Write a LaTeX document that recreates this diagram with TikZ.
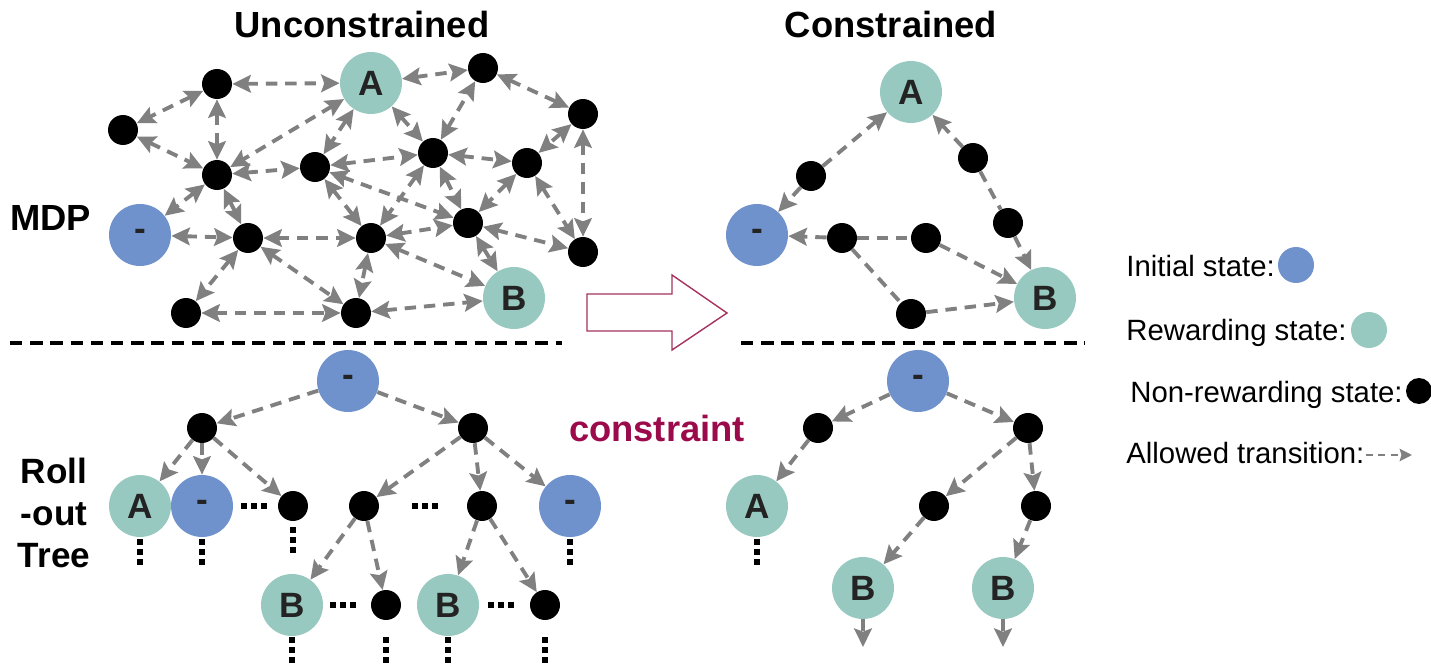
\documentclass[tikz,border=0pt]{standalone}
\usepackage{fontspec}
\setmainfont{Liberation Sans}
\usetikzlibrary{arrows.meta,positioning}
\definecolor{initblue}{RGB}{111,146,204}
\definecolor{rewteal}{RGB}{152,201,192}
\definecolor{edgegray}{RGB}{128,128,128}
\definecolor{lettergray}{RGB}{35,35,35}
\definecolor{conmaroon}{RGB}{155,10,75}
\definecolor{arrowmaroon}{RGB}{165,50,95}

\tikzset{
  head/.style={font=\bfseries\fontsize{20.7}{24}\selectfont,anchor=base,inner sep=0pt},
  legtxt/.style={font=\fontsize{16.7}{20}\selectfont,anchor=base west,inner sep=0pt},
  initst/.style={circle,fill=initblue,minimum size=1.24cm,inner sep=0pt,
    font=\bfseries\fontsize{20}{20}\selectfont,text=lettergray},
  rewst/.style={initst,fill=rewteal},
  nrst/.style={circle,fill=black,minimum size=0.6cm,inner sep=0pt},
  tr/.style={draw=edgegray,line width=2.2pt,dash pattern=on 6.5pt off 4.5pt},
  divider/.style={line width=2pt,dash pattern=on 7pt off 4.5pt},
  sqdots/.style={line width=3pt,dash pattern=on 3pt off 2.7pt},
}

\begin{document}
\begin{tikzpicture}[x=0.02cm,y=-0.02cm,>={Stealth[length=10.5pt,width=10pt,inset=1.8pt]}]
  \useasboundingbox (0,0) rectangle (1431,672);

  % headings and row labels
  \node[head] (hunc) at (362,38) {Unconstrained};
  \node[head] (hcon) at (891,38) {Constrained};
  \node[head,anchor=base west] (hmdp) at (10,231) {MDP};
  \node[head,anchor=center,align=center,font=\bfseries\fontsize{20}{24}\selectfont]
    (hroll) at (54,513) {Roll\\-out\\Tree};
  \node[head,text=conmaroon] (hcstr) at (657,441) {constraint};

  % unconstrained MDP
  \node[nrst] (m1) at (217,84) {};
  \node[nrst] (m2) at (123,130) {};
  \node[rewst] (mA) at (371,83) {A};
  \node[nrst] (m3) at (483,68) {};
  \node[nrst] (m4) at (583,114) {};
  \node[nrst] (m5) at (217,175) {};
  \node[nrst] (m6) at (315,167) {};
  \node[nrst] (m7) at (433,153) {};
  \node[nrst] (m8) at (527,163) {};
  \node[initst] (mI) at (140,235) {-};
  \node[nrst] (m9) at (248,238) {};
  \node[nrst] (m10) at (371,238) {};
  \node[nrst] (m11) at (468,223) {};
  \node[nrst] (m12) at (583,252) {};
  \node[nrst] (m13) at (186,313) {};
  \node[nrst] (m14) at (356,313) {};
  \node[rewst] (mB) at (514,298) {B};

  \draw[tr,<->] (m1) -- (mA);   \draw[tr,<->] (m1) -- (m2);   \draw[tr,<->] (m1) -- (m5);
  \draw[tr,<->] (m2) -- (m5);   \draw[tr,<->] (mA) -- (m5);   \draw[tr,<->] (m5) -- (m6);
  \draw[tr,<->] (m5) -- (mI);   \draw[tr,<->] (m5) -- (m9);   \draw[tr,<->] (mI) -- (m9);
  \draw[tr,<->] (m9) -- (m10);  \draw[tr,<->] (m9) -- (m13);  \draw[tr,<->] (m9) -- (m14);
  \draw[tr,<->] (m13) -- (m14); \draw[tr,<->] (m6) -- (m7);   \draw[tr,<->] (m6) -- (m11);
  \draw[tr,<->] (mA) -- (m6);   \draw[tr,<->] (mA) -- (m7);   \draw[tr,<->] (mA) -- (m3);
  \draw[tr,<->] (m6) -- (m10);  \draw[tr,<->] (m7) -- (m10);  \draw[tr,<->] (m10) -- (m11);
  \draw[tr,<->] (m10) -- (mB);  \draw[tr,<->] (m10) -- (m14); \draw[tr,<->] (m14) -- (mB);
  \draw[tr,<->] (m7) -- (m11);  \draw[tr,<->] (m7) -- (m8);   \draw[tr,<->] (m7) -- (m3);
  \draw[tr,<->] (m3) -- (m4);   \draw[tr,<->] (m4) -- (m8);   \draw[tr,<->] (m4) -- (m12);
  \draw[tr,<->] (m8) -- (m11);  \draw[tr,<->] (m8) -- (m12);  \draw[tr,<->] (m11) -- (m12);
  \draw[tr,<->] (m11) -- (mB);

  % constrained MDP
  \node[rewst] (cA) at (911,92) {A};
  \node[nrst] (c1) at (811,176) {};
  \node[nrst] (c2) at (973,158) {};
  \node[nrst] (c3) at (1008,223) {};
  \node[initst] (cI) at (757,235) {-};
  \node[nrst] (c4) at (842,238) {};
  \node[nrst] (c5) at (926,238) {};
  \node[rewst] (cB) at (1045,298) {B};
  \node[nrst] (c6) at (911,314) {};

  \draw[tr,->] (c1) -- (cA);  \draw[tr,->] (c1) -- (cI);
  \draw[tr,->] (c2) -- (cA);  \draw[tr] (c2) -- (c3);  \draw[tr,->] (c3) -- (cB);
  \draw[tr,->] (c4) -- (cI);  \draw[tr] (c4) -- (c5);  \draw[tr,->] (c5) -- (cB);
  \draw[tr] (c4) -- (c6);     \draw[tr,->] (c6) -- (cB);

  % separators
  \draw[divider] (10,343) -- (562,343);
  \draw[divider] (741,343) -- (1085,343);

  % big arrow
  \draw[arrowmaroon,line width=0.8pt,line join=miter]
    (587,294) -- (672,294) -- (672,275) -- (727,313) -- (672,350) -- (672,331) -- (587,331) -- cycle;

  % unconstrained roll-out tree
  \node[initst] (rt) at (348,381) {-};
  \node[nrst] (t1) at (202,428) {};
  \node[nrst] (t2) at (473,428) {};
  \node[rewst] (tA) at (140,506) {A};
  \node[initst] (tI1) at (202,506) {-};
  \node[nrst] (t3) at (293,506) {};
  \node[nrst] (t4) at (364,506) {};
  \node[nrst] (t5) at (482,506) {};
  \node[initst] (tI2) at (570,506) {-};
  \node[rewst] (tB1) at (292,605) {B};
  \node[nrst] (t6) at (386,605) {};
  \node[rewst] (tB2) at (448,605) {B};
  \node[nrst] (t7) at (545,605) {};

  \draw[tr,->] (rt) -- (t1);  \draw[tr,->] (rt) -- (t2);
  \draw[tr,->] (t1) -- (tA);  \draw[tr,->] (t1) -- (tI1); \draw[tr,->] (t1) -- (t3);
  \draw[tr,->] (t2) -- (t4);  \draw[tr,->] (t2) -- (t5);  \draw[tr,->] (t2) -- (tI2);
  \draw[tr,->] (t4) -- (tB1); \draw[tr,->] (t4) -- (t6);
  \draw[tr,->] (t5) -- (tB2); \draw[tr,->] (t5) -- (t7);

  \draw[sqdots] (tA.south) ++(0,2) -- ++(0,26);
  \draw[sqdots] (tI1.south) ++(0,2) -- ++(0,26);
  \draw[sqdots] (t3.south) ++(0,6) -- ++(0,26);
  \draw[sqdots] (tI2.south) ++(0,2) -- ++(0,26);
  \draw[sqdots] (tB1.south) ++(0,1) -- ++(0,26);
  \draw[sqdots] (t6.south) ++(0,17) -- ++(0,26);
  \draw[sqdots] (tB2.south) ++(0,1) -- ++(0,26);
  \draw[sqdots] (t7.south) ++(0,17) -- ++(0,26);
  \draw[sqdots] (tI1.east) ++(8,0) -- ++(26,0);
  \draw[sqdots] (t4.east) ++(33,0) -- ++(26,0);
  \draw[sqdots] (tB1.east) ++(7,0) -- ++(26,0);
  \draw[sqdots] (tB2.east) ++(9,0) -- ++(26,0);

  % constrained roll-out tree
  \node[initst] (sr) at (918,381) {-};
  \node[nrst] (s1) at (818,428) {};
  \node[nrst] (s2) at (1028,428) {};
  \node[rewst] (sA) at (757,506) {A};
  \node[nrst] (s3) at (934,506) {};
  \node[nrst] (s4) at (1036,506) {};
  \node[rewst] (sB1) at (863,588) {B};
  \node[rewst] (sB2) at (1003,588) {B};
  \coordinate (se1) at (863,647);
  \coordinate (se2) at (1003,647);

  \draw[tr,->] (sr) -- (s1);  \draw[tr,->] (sr) -- (s2);
  \draw[tr,->] (s1) -- (sA);  \draw[tr,->] (s2) -- (s3);  \draw[tr,->] (s2) -- (s4);
  \draw[tr,->] (s3) -- (sB1); \draw[tr,->] (s4) -- (sB2);
  \draw[tr,->] (sB1) -- (se1); \draw[tr,->] (sB2) -- (se2);
  \draw[sqdots] (sA.south) ++(0,2) -- ++(0,26);

  % legend
  \node[legtxt] (lg1) at (1126,277) {Initial state:};
  \node[legtxt] (lg2) at (1126,340) {Rewarding state:};
  \node[legtxt] (lg3) at (1130,402) {Non-rewarding state:};
  \node[legtxt] (lg4) at (1126,463) {Allowed transition:};
  \node[initst,minimum size=0.72cm] (lc1) at (1296,265) {};
  \node[rewst,minimum size=0.72cm] (lc2) at (1369,330) {};
  \node[nrst,minimum size=0.52cm] (lc3) at (1419,391) {};
  \coordinate (la) at (1366,455);
  \coordinate (lb) at (1412,455);
  \draw[draw=edgegray,line width=1.3pt,dash pattern=on 4pt off 3pt,
    -{Stealth[length=7pt,width=7pt,inset=1pt]}] (la) -- (lb);
\end{tikzpicture}
\end{document}
